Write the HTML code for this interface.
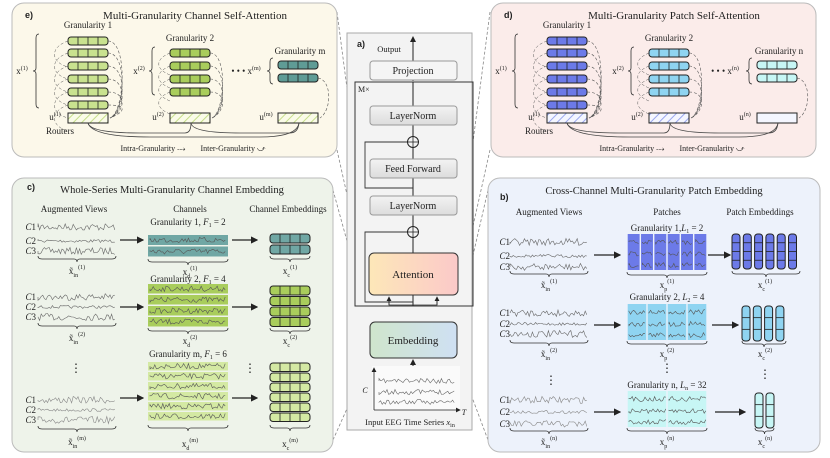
<!DOCTYPE html>
<html><head><meta charset="utf-8"><style>
html,body{margin:0;padding:0;background:#fff;width:830px;height:458px;overflow:hidden}
svg{display:block}
text{font-family:"Liberation Serif",serif;fill:#222}
.b{font-family:"Liberation Sans",sans-serif;font-weight:bold}
</style></head><body>
<svg id="s" width="830" height="458" viewBox="0 0 830 458" xmlns="http://www.w3.org/2000/svg">
<defs>
<linearGradient id="ga" x1="0" x2="1"><stop offset="0" stop-color="#fde7b8"/><stop offset="1" stop-color="#fbc9c9"/></linearGradient>
<linearGradient id="ge" x1="0" x2="1"><stop offset="0" stop-color="#cfe5cc"/><stop offset="1" stop-color="#cfe0f3"/></linearGradient>
<linearGradient id="gg" x1="0" y1="0" x2="0" y2="1"><stop offset="0" stop-color="#f3f3f3"/><stop offset="1" stop-color="#dcdcdc"/></linearGradient>
<pattern id="hg" width="6" height="6" patternUnits="userSpaceOnUse" patternTransform="rotate(45)"><rect width="6" height="6" fill="#fafbe8"/><line x1="0" y1="0" x2="0" y2="6" stroke="#c5de8a" stroke-width="2"/></pattern>
<pattern id="hb" width="6" height="6" patternUnits="userSpaceOnUse" patternTransform="rotate(45)"><rect width="6" height="6" fill="#f4f6ff"/><line x1="0" y1="0" x2="0" y2="6" stroke="#9aa6ee" stroke-width="2"/></pattern>
<marker id="ar" markerWidth="6" markerHeight="6" refX="5" refY="3" orient="auto"><path d="M0,0 L6,3 L0,6 z" fill="#222"/></marker>
</defs>
<g id="g"></g>
</svg>
<script>
var o='';
function R(x,y,w,h,f,s,r,extra){o+='<rect x="'+x+'" y="'+y+'" width="'+w+'" height="'+h+'" fill="'+f+'" stroke="'+(s||'none')+'" rx="'+(r||0)+'" '+(extra||'')+'/>';}
function T(x,y,t,sz,a,cls){o+='<text x="'+x+'" y="'+y+'" font-size="'+(sz||9)+'" text-anchor="'+(a||'middle')+'" '+(cls?'class="'+cls+'"':'')+'>'+t+'</text>';}
function L(x1,y1,x2,y2,c,w,extra){o+='<line x1="'+x1+'" y1="'+y1+'" x2="'+x2+'" y2="'+y2+'" stroke="'+(c||'#222')+'" stroke-width="'+(w||1)+'" '+(extra||'')+'/>';}
function P(d,c,w,extra){o+='<path d="'+d+'" fill="none" stroke="'+(c||'#222')+'" stroke-width="'+(w||1)+'" '+(extra||'')+'/>';}
var seed=7;function rnd(){seed=(seed*16807)%2147483647;return seed/2147483647;}
function wave(x1,x2,y,amp,c){var d='M'+x1+','+y;for(var x=x1;x<=x2;x+=1.6){d+=' L'+x.toFixed(1)+','+(y+(rnd()-0.5)*2*amp).toFixed(1);}P(d,c||'#666',0.6);}
function cap(x,y,w,h,f,n){R(x,y,w,h,f,'#222',3,'stroke-width="1"');for(var i=1;i<n;i++)L(x+w*i/n,y,x+w*i/n,y+h,'#222',0.8);}
function vcap(x,y,w,h,f,n){R(x,y,w,h,f,'#222',3,'stroke-width="1"');for(var i=1;i<n;i++)L(x,y+h*i/n,x+w,y+h*i/n,'#222',0.8);}
function brace(x1,x2,y){P('M'+x1+','+(y-3)+' Q'+x1+','+y+' '+(x1+4)+','+y+' L'+((x1+x2)/2-3)+','+y+' Q'+((x1+x2)/2)+','+y+' '+((x1+x2)/2)+','+(y+3)+' Q'+((x1+x2)/2)+','+y+' '+((x1+x2)/2+3)+','+y+' L'+(x2-4)+','+y+' Q'+x2+','+y+' '+x2+','+(y-3),'#333',0.8);}
function vbrace(x,y1,y2){var m=(y1+y2)/2;P('M'+(x+3)+','+y1+' Q'+x+','+y1+' '+x+','+(y1+4)+' L'+x+','+(m-3)+' Q'+x+','+m+' '+(x-3)+','+m+' Q'+x+','+m+' '+x+','+(m+3)+' L'+x+','+(y2-4)+' Q'+x+','+y2+' '+(x+3)+','+y2,'#333',0.8);}
function arrow(x1,y,x2){L(x1,y,x2,y,'#222',1.2,'marker-end="url(#ar)"');}
// dashed connector lines
var dc='stroke-dasharray="3,2"';
L(337,12,369,256,'#888',0.8,dc);L(337,150,369,293,'#888',0.8,dc);
L(490,12,458,256,'#888',0.8,dc);L(490,150,458,293,'#888',0.8,dc);
L(333,190,370,325,'#888',0.8,dc);L(333,440,370,357,'#888',0.8,dc);
L(488,190,457,325,'#888',0.8,dc);L(488,440,457,357,'#888',0.8,dc);
// Panel function for e/d
function attn(dx,bg,c1,c2,c3,hat,title,tag,lm){
 R(dx+12,3,325,154,bg,'#bbb',12);
 T(dx+25,18,tag,9,'start','b');T(dx+195,19,title,11);
 T(dx+88,28,'Granularity 1',9);
 var ys=[37,49,62,75,88,101];ys.forEach(function(y){cap(dx+68,y,40,8,c1,4);P('M'+(dx+108)+','+(y+4)+' C'+(dx+128)+','+(y+4)+' '+(dx+125)+',112 '+(dx+110)+',118','#555',0.6,dc);P('M'+(dx+68)+','+(y+4)+' C'+(dx+50)+','+(y+10)+' '+(dx+50)+','+(y+25)+' '+(dx+68)+','+(y+30),'#555',0.5,dc);});
 vbrace(dx+36,34,108);T(dx+22,74,'x<tspan font-size="6" dy="-4">(1)</tspan>',9);
 T(dx+190,41,'Granularity 2',9);
 [49,62,75,88].forEach(function(y){cap(dx+170,y,40,8,c2,4);P('M'+(dx+210)+','+(y+4)+' C'+(dx+228)+','+(y+4)+' '+(dx+225)+',112 '+(dx+212)+',118','#555',0.6,dc);P('M'+(dx+170)+','+(y+4)+' C'+(dx+155)+','+(y+10)+' '+(dx+155)+','+(y+20)+' '+(dx+170)+','+(y+26),'#555',0.5,dc);});
 vbrace(dx+152,47,95);T(dx+139,74,'x<tspan font-size="6" dy="-4">(2)</tspan>',9);
 T(dx+300,54,'Granularity '+lm,9);
 [61,74].forEach(function(y){cap(dx+278,y,40,8,c3,4);});
 P('M'+(dx+318)+',78 C'+(dx+332)+',80 '+(dx+332)+',110 '+(dx+320)+',118','#555',0.6,dc);
 vbrace(dx+270,58,84);T(dx+246,74,'• • • x<tspan font-size="6" dy="-4">('+lm+')</tspan>',9);
 R(dx+68,113,40,10,'url(#'+hat+')','#222');R(dx+170,113,40,10,'url(#'+hat+')','#222');R(dx+278,113,40,10,dx?'#f4f6ff':'url(#'+hat+')','#222');
 T(dx+55,120,'u<tspan font-size="6" dy="-4">(1)</tspan>',9);T(dx+158,120,'u<tspan font-size="6" dy="-4">(2)</tspan>',9);T(dx+266,120,'u<tspan font-size="6" dy="-4">('+lm+')</tspan>',9);
 T(dx+60,134,'Routers',9);
 P('M'+(dx+88)+',123 Q'+(dx+90)+',133 '+(dx+140)+',133 L'+(dx+185)+',133 Q'+(dx+191)+',133 '+(dx+191)+',123','#444',0.8);
 P('M'+(dx+191)+',123 Q'+(dx+192)+',133 '+(dx+240)+',133 L'+(dx+290)+',133 Q'+(dx+298)+',133 '+(dx+299)+',123','#444',0.8);
 P('M'+(dx+88)+',123 Q'+(dx+92)+',137 '+(dx+150)+',137 L'+(dx+260)+',137 Q'+(dx+297)+',137 '+(dx+299)+',123','#444',0.8);
 T(dx+153,151,'Intra-Granularity ⤏',8);T(dx+233,151,'Inter-Granularity ⤻',8);
}
attn(0,'#fcf8ea','#c9e28f','#a9cd5c','#5f9c96','hg','Multi-Granularity  Channel  Self-Attention','e)','m');
attn(479,'#fbecea','#6c7ae8','#8fd4f1','#c7f6f5','hb','Multi-Granularity  Patch  Self-Attention','d)','n');
// Panel c
R(12,178,321,274,'#eef3ea','#bbb',12);
T(27,190,'c)',9,'start','b');T(172,193,'Whole-Series Multi-Granularity  Channel  Embedding',10.5);
T(74,212,'Augmented  Views',9);T(190,212,'Channels',9);T(288,212,'Channel Embeddings',9);
function series(lx,wx1,wx2,ys,c){ys.forEach(function(y,i){T(lx,y+3,'<tspan font-style="italic">C</tspan>'+(i+1),9,'end');wave(wx1,wx2,y,i==1?1.5:3.5,c);});}
series(36,38,116,[227,241,251],'#666');brace(38,116,259);T(77,274,'x̃<tspan font-size="6" dy="3">in</tspan><tspan font-size="6" dy="-8">(1)</tspan>',9);
series(36,38,116,[297,307,317],'#666');brace(38,116,326);T(77,341,'x̃<tspan font-size="6" dy="3">in</tspan><tspan font-size="6" dy="-8">(2)</tspan>',9);
T(76,372,'⋮',12);T(250,372,'⋮',12);
series(36,38,116,[400,410,420],'#888');brace(38,116,429);T(77,445,'x̃<tspan font-size="6" dy="3">in</tspan><tspan font-size="6" dy="-8">(m)</tspan>',9);
[240,307,398].forEach(function(y){arrow(120,y,143);arrow(232,y,257);});
function strips(y0,n,h,f){for(var i=0;i<n;i++){R(148,y0+i*(h+1.5),80,h,f);wave(150,226,y0+i*(h+1.5)+h/2,2.8,'#555');}}
T(188,225,'Granularity 1, <tspan font-style="italic">F</tspan><tspan font-size="6" dy="2">1</tspan><tspan dy="-2"> = 2</tspan>',9);
strips(235,2,10,'#70a7a4');brace(148,228,262);T(190,275,'x<tspan font-size="6" dy="3">d</tspan><tspan font-size="6" dy="-8">(1)</tspan>',9);
T(188,282,'Granularity 2, <tspan font-style="italic">F</tspan><tspan font-size="6" dy="2">1</tspan><tspan dy="-2"> = 4</tspan>',9);
strips(284,4,9.5,'#a9cd5c');brace(148,228,331);T(190,344,'x<tspan font-size="6" dy="3">d</tspan><tspan font-size="6" dy="-8">(2)</tspan>',9);
T(188,357,'Granularity m, <tspan font-style="italic">F</tspan><tspan font-size="6" dy="2">1</tspan><tspan dy="-2"> = 6</tspan>',9);
strips(362,6,8.5,'#d4e9a3');brace(148,228,428);T(190,447,'x<tspan font-size="6" dy="3">d</tspan><tspan font-size="6" dy="-8">(m)</tspan>',9);
cap(270,234,40,9,'#70a7a4',4);cap(270,245,40,9,'#70a7a4',4);brace(270,310,259);T(290,274,'x<tspan font-size="6" dy="3">c</tspan><tspan font-size="6" dy="-8">(1)</tspan>',9);
for(var i=0;i<4;i++)cap(270,286+i*10.5,40,9,'#a9cd5c',4);brace(270,310,331);T(290,344,'x<tspan font-size="6" dy="3">c</tspan><tspan font-size="6" dy="-8">(2)</tspan>',9);
for(var i=0;i<6;i++)cap(270,363+i*10,40,8.5,'#d4e9a3',4);brace(270,310,428);T(290,447,'x<tspan font-size="6" dy="3">c</tspan><tspan font-size="6" dy="-8">(m)</tspan>',9);
// Panel b
R(488,178,332,274,'#edf2fb','#bbb',12);
T(500,200,'b)',9,'start','b');T(654,194,'Cross-Channel Multi-Granularity  Patch  Embedding',10.5);
T(549,215,'Augmented  Views',9);T(667,215,'Patches',9);T(760,215,'Patch  Embeddings',9);
series(510,510,588,[242,256,267],'#666');brace(510,588,274);T(549,288,'x̃<tspan font-size="6" dy="3">in</tspan><tspan font-size="6" dy="-8">(1)</tspan>',9);
series(510,510,588,[313,324,334],'#666');brace(510,588,343);T(549,357,'x̃<tspan font-size="6" dy="3">in</tspan><tspan font-size="6" dy="-8">(2)</tspan>',9);
T(551,384,'⋮',12);T(667,372,'⋮',12);T(765,378,'⋮',12);
series(510,510,588,[400,412,424],'#888');brace(510,588,431);T(549,445,'x̃<tspan font-size="6" dy="3">in</tspan><tspan font-size="6" dy="-8">(n)</tspan>',9);
arrow(594,255,620);arrow(594,325,620);arrow(594,412,620);
arrow(708,255,730);arrow(712,325,738);arrow(715,412,745);
function patches(y0,n,f){var w=80/n;for(var i=0;i<n;i++){R(627+i*w+0.7,y0,w-1.4,36,f);[8,20,31].forEach(function(d){wave(628+i*w+1,627+(i+1)*w-1,y0+d,2.5,'#555');});}}
T(667,231,'Granularity 1,<tspan font-style="italic">L</tspan><tspan font-size="6" dy="2">1</tspan><tspan dy="-2"> = 2</tspan>',9);
patches(234,6,'#6c7ae8');brace(627,707,275);T(667,288,'x<tspan font-size="6" dy="3">p</tspan><tspan font-size="6" dy="-8">(1)</tspan>',9);
T(667,300,'Granularity 2, <tspan font-style="italic">L</tspan><tspan font-size="6" dy="2">2</tspan><tspan dy="-2"> = 4</tspan>',9);
patches(304,4,'#8fd4f1');brace(627,707,344);T(667,357,'x<tspan font-size="6" dy="3">p</tspan><tspan font-size="6" dy="-8">(2)</tspan>',9);
T(667,388,'Granularity n, <tspan font-style="italic">L</tspan><tspan font-size="6" dy="2">n</tspan><tspan dy="-2"> = 32</tspan>',9);
patches(391,2,'#c7f6f5');brace(627,707,431);T(667,445,'x<tspan font-size="6" dy="3">p</tspan><tspan font-size="6" dy="-8">(n)</tspan>',9);
for(var i=0;i<6;i++)vcap(732+i*11.3,234,8,35,'#6c7ae8',4);brace(732,800,274);T(765,288,'x<tspan font-size="6" dy="3">c</tspan><tspan font-size="6" dy="-8">(1)</tspan>',9);
for(var i=0;i<4;i++)vcap(742+i*11.3,306,8,35,'#8fd4f1',3);brace(742,786,344);T(765,357,'x<tspan font-size="6" dy="3">c</tspan><tspan font-size="6" dy="-8">(2)</tspan>',9);
for(var i=0;i<2;i++)vcap(755+i*11,393,8,35,'#c7f6f5',3);brace(755,774,431);T(765,445,'x<tspan font-size="6" dy="3">c</tspan><tspan font-size="6" dy="-8">(n)</tspan>',9);
// Center panel a
R(347,33,125,397,'#f3f3f3','#aaa',0);
T(357,47,'a)',9,'start','b');T(389,52,'Output',8.5);
L(413,81,413,37,'#222',1,'marker-end="url(#ar)"');
R(370,61,87,19,'#f5f5f5','#999',3);T(413,74,'Projection',10);
R(355,82,118,224,'none','#333',0);T(358,92,'M×',8,'start');
L(413,306,413,82,'#222',1);
R(370,106,87,19,'url(#gg)','#999',3);T(413,119,'LayerNorm',10);
R(370,159,87,19,'url(#gg)','#999',3);T(413,172,'Feed Forward',10);
R(370,196,87,19,'url(#gg)','#999',3);T(413,209,'LayerNorm',10);
[142,232].forEach(function(y){o+='<circle cx="413" cy="'+y+'" r="5.5" fill="#f3f3f3" stroke="#222"/>';L(407.5,y,418.5,y,'#222',0.8);L(413,y-5.5,413,y+5.5,'#222',0.8);});
P('M413,188 L365,188 L365,142 L407,142','#333',0.9);
P('M413,302 L365,302 L365,232 L407,232','#333',0.9);
R(369,253,89,42,'url(#ga)','#333',5);T(413,278,'Attention',11);
P('M389,298 L389,305 L437,305 L437,298','#333',0.8);L(389,305,389,297,'#222',0.8,'marker-end="url(#ar)"');L(437,305,437,297,'#222',0.8,'marker-end="url(#ar)"');
R(370,322,87,36,'url(#ge)','#333',5);T(413,344,'Embedding',11);
L(413,370,413,360,'#222',1,'marker-end="url(#ar)"');
R(372,366,88,44,'#fafafa','none');
L(374,410,374,368,'#222',0.8,'marker-end="url(#ar)"');L(374,410,460,410,'#222',0.8,'marker-end="url(#ar)"');
T(365,393,'<tspan font-style="italic">C</tspan>',8);T(464,415,'<tspan font-style="italic">T</tspan>',8);
seed=11;wave(379,455,381,2.5);wave(379,455,392,2.5);wave(379,455,402,2.5);
T(410,425,'Input EEG Time Series <tspan font-style="italic">x</tspan><tspan font-size="6" dy="2">in</tspan>',8.5);
document.getElementById('g').innerHTML=o;
</script>
</body></html>
